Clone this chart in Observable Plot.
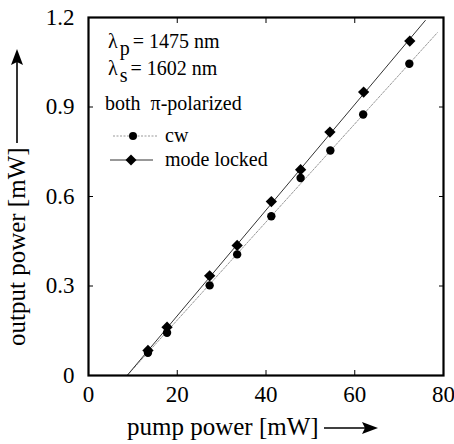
<!DOCTYPE html>
<html><head><meta charset="utf-8">
<script src="https://cdn.jsdelivr.net/npm/d3@7"></script>
<script src="https://cdn.jsdelivr.net/npm/@observablehq/plot@0.6"></script>
<style>
body{margin:0;background:#fff} svg{display:block}
#chart svg, #chart svg text, #chart svg tspan { font-family: "Liberation Serif", "Times New Roman", Times, "DejaVu Serif", serif !important; }
</style>
</head><body><div id="chart"></div>
<script>
// ---- data ----
const pumpCW = [13.4, 17.7, 27.3, 33.5, 41.2, 47.8, 54.5, 61.9, 72.3];
const outCW  = [0.076, 0.143, 0.302, 0.406, 0.534, 0.662, 0.754, 0.875, 1.045];
const pumpML = [13.4, 17.7, 27.3, 33.5, 41.2, 47.8, 54.4, 62.0, 72.4];
const outML  = [0.084, 0.162, 0.334, 0.436, 0.583, 0.690, 0.816, 0.950, 1.121];
const fitCWx = [8.7, 78.6];
const fitCWy = [0, 1.149];
const fitMLx = [8.7, 75.9];
const fitMLy = [0, 1.19];
const xTicks = [0, 20, 40, 60, 80];
const yTicks = [0, 0.3, 0.6, 0.9, 1.2];
const xInner = [20, 40, 60];
const yInner = [0.3, 0.6, 0.9];
const xLabel = "pump power [mW]";
const yLabel = "output power [mW]";
const seriesNames = ["cw", "mode locked"];
const noteLines = [["λ", "p", "= 1475 nm"], ["λ", "s", "= 1602 nm"]];
const noteText = "both  π-polarized";

const FONT = "'Liberation Serif', 'Times New Roman', Times, 'DejaVu Serif', serif";
const zip = (xs, ys) => xs.map((x, i) => ({x, y: ys[i]}));
const cw = zip(pumpCW, outCW), ml = zip(pumpML, outML);
const fitCW = zip(fitCWx, fitCWy), fitML = zip(fitMLx, fitMLy);

function overlay(index, scales, values, dims) {
  const g = d3.create("svg:g").attr("font-family", FONT).attr("fill", "black").attr("text-anchor", "start");
  // annotation lines with subscripts
  noteLines.forEach((parts, i) => {
    const y = 48 + i * 27;
    const t = g.append("text").attr("x", 108).attr("y", y).attr("font-size", 20);
    t.append("tspan").text(parts[0]);
    t.append("tspan").attr("dx", 2).attr("dy", 7).attr("font-size", 20).text(parts[1]);
    t.append("tspan").attr("dx", 3).attr("dy", -7).text(parts[2]);
  });
  g.append("text").attr("x", 105).attr("y", 110).attr("font-size", 20).text(noteText);
  // legend
  g.append("line").attr("x1", 113).attr("x2", 157).attr("y1", 136).attr("y2", 136)
    .attr("stroke", "#999").attr("stroke-width", 1).attr("stroke-dasharray", "2,1.5");
  g.append("circle").attr("cx", 133).attr("cy", 136).attr("r", 4);
  g.append("text").attr("x", 165).attr("y", 136).attr("dy", "0.32em").attr("font-size", 20).text(seriesNames[0]);
  g.append("line").attr("x1", 110).attr("x2", 153).attr("y1", 160).attr("y2", 160)
    .attr("stroke", "#333").attr("stroke-width", 1);
  g.append("path").attr("d", "M131,154.5L136.5,160L131,165.5L125.5,160Z");
  g.append("text").attr("x", 165).attr("y", 160).attr("dy", "0.32em").attr("font-size", 20).text(seriesNames[1]);
  // x axis label with arrow
  g.append("text").attr("x", 127).attr("y", 435).attr("font-size", 25).text(xLabel);
  g.append("line").attr("x1", 324).attr("x2", 368).attr("y1", 428).attr("y2", 428)
    .attr("stroke", "black").attr("stroke-width", 1.6);
  g.append("path").attr("d", "M378,428L362,422L365,428L362,434Z");
  // y axis label with arrow
  g.append("text").attr("transform", "translate(25,346) rotate(-90)").attr("font-size", 25).text(yLabel);
  g.append("line").attr("x1", 17).attr("x2", 17).attr("y1", 143).attr("y2", 60)
    .attr("stroke", "black").attr("stroke-width", 1.6);
  g.append("path").attr("d", "M17,49L11,65L17,62L23,65Z");
  return g.node();
}

const chart = Plot.plot({
  width: 454, height: 444,
  marginLeft: 88, marginRight: 11, marginTop: 17, marginBottom: 69,
  style: {fontFamily: FONT, background: "white", color: "black"},
  x: {domain: [0, 80], label: null},
  y: {domain: [0, 1.2], label: null},
  marks: [
    Plot.line(fitCW, {x: "x", y: "y", stroke: "#999", strokeWidth: 1, strokeDasharray: "2,1.5"}),
    Plot.line(fitML, {x: "x", y: "y", stroke: "#333", strokeWidth: 1}),
    Plot.dot(cw, {x: "x", y: "y", r: 4.2, fill: "black", symbol: "circle"}),
    Plot.dot(ml, {x: "x", y: "y", r: 4.5, fill: "black", symbol: "square", rotate: 45}),
    Plot.axisX(xTicks, {anchor: "bottom", tickSize: 0, tickPadding: 10, fontSize: 23, fontFamily: FONT, fontVariant: "normal", label: null}),
    Plot.axisY(yTicks, {anchor: "left", tickSize: 0, tickPadding: 14, fontSize: 23, fontFamily: FONT, fontVariant: "normal", label: null, tickFormat: d => d === 0 ? "0" : d.toFixed(1)}),
    Plot.axisX(xInner, {anchor: "bottom", tickSize: 5, dy: -5, text: null, label: null}),
    Plot.axisX(xInner, {anchor: "top", tickSize: 5, dy: 5, text: null, label: null}),
    Plot.axisY(yInner, {anchor: "left", tickSize: 5, dx: 5, text: null, label: null}),
    Plot.axisY(yInner, {anchor: "right", tickSize: 5, dx: -5, text: null, label: null}),
    Plot.frame({stroke: "black", strokeWidth: 2.2}),
    overlay
  ]
});
document.getElementById("chart").append(chart);
</script>
</body></html>
